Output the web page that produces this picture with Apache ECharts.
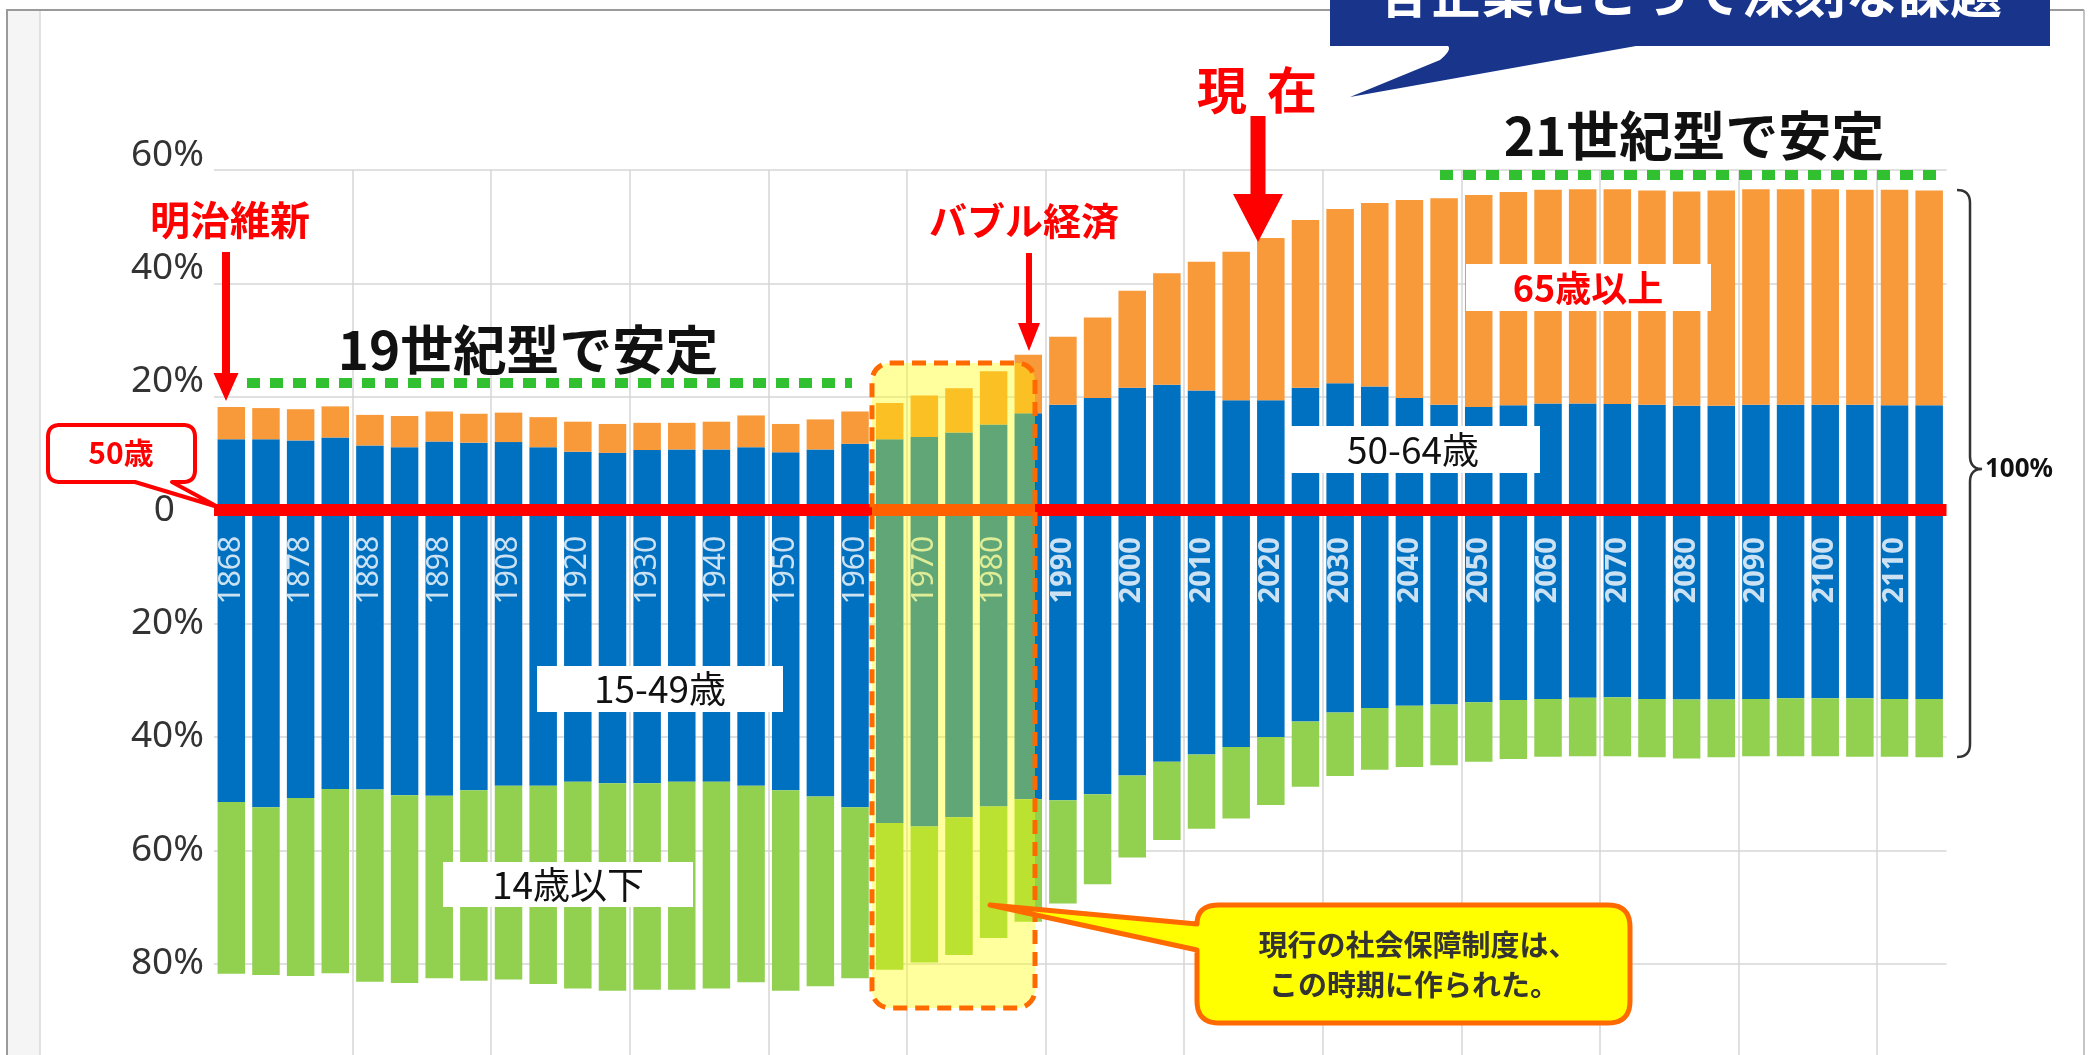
<!DOCTYPE html>
<html><head><meta charset="utf-8">
<style>html,body{margin:0;padding:0;background:#fff;}#c{width:2089px;height:1055px;}</style>
<script src="https://cdn.jsdelivr.net/npm/echarts@6/dist/echarts.min.js"></script>
</head><body><div id="c"></div>
<script>
// ---- data (shares of total population, %) ----
const years = [1868,1873,1878,1883,1888,1893,1898,1903,1908,1913,
  1920,1925,1930,1935,1940,1945,1950,1955,1960,1965,
  1970,1975,1980,1985,1990,1995,2000,2005,2010,2015,
  2020,2025,2030,2035,2040,2045,2050,2055,2060,2065,
  2070,2075,2080,2085,2090,2095,2100,2105,2110,2115];
const age50_64 = [12.5,12.5,12.3,12.8,11.4,11.1,12.1,11.9,12.0,11.1,
  10.3,10.1,10.6,10.7,10.7,11.1,10.2,10.7,11.7,12.5,
  12.9,13.7,15.1,17.1,18.6,19.8,21.6,22.1,21.1,19.4,
  19.4,21.6,22.4,21.8,19.8,18.6,18.2,18.5,18.8,18.8,
  18.7,18.6,18.4,18.4,18.6,18.6,18.6,18.6,18.5,18.5];
const age65plus = [5.7,5.5,5.5,5.5,5.4,5.5,5.3,5.1,5.2,5.3,
  5.3,5.1,4.8,4.7,4.9,5.6,5.0,5.3,5.7,6.4,
  7.3,7.8,9.4,10.3,12.0,14.2,17.1,19.7,22.7,26.2,
  28.6,29.6,30.7,32.4,34.9,36.4,37.4,37.6,37.7,37.8,
  37.9,37.8,37.8,38.0,38.0,38.0,38.0,37.9,38.0,37.9];
const age15_49 = [51.5,52.4,50.8,49.2,49.3,50.3,50.4,49.4,48.6,48.6,
  47.9,48.2,48.2,47.9,47.9,48.6,49.4,50.5,52.4,55.2,
  55.8,54.2,52.3,51.0,51.2,50.1,46.8,44.4,43.1,41.8,
  40.0,37.3,35.7,34.9,34.5,34.3,33.9,33.5,33.3,33.1,
  33.0,33.3,33.4,33.4,33.3,33.2,33.2,33.2,33.3,33.3];
const age0_14 = [30.3,29.6,31.4,32.5,33.9,33.1,32.2,33.6,34.2,35.0,
  36.5,36.6,36.4,36.7,36.5,34.7,35.4,33.5,30.2,25.9,
  24.0,24.3,23.2,21.6,18.2,15.9,14.5,13.8,13.1,12.6,
  12.0,11.5,11.2,10.9,10.8,10.7,10.5,10.4,10.2,10.3,
  10.4,10.3,10.4,10.2,10.1,10.2,10.2,10.3,10.2,10.3];
const yTicks = [-100,-80,-60,-40,-20,0,20,40,60];

// ---- chart ----
const JP = '"Noto Sans CJK JP"';
const chart = echarts.init(document.getElementById('c'), null, {renderer:'canvas'});
const labelDepth = -10.6;
const yearLabelData = years.map((y,i)=> i%2===0 ? [i, labelDepth] : null).filter(d=>d);

// simple path (M,H,V,L,Q,Z) -> point list
function pathPts(d){
  const t = d.match(/[MHVLQZ]|-?\d+(\.\d+)?/g);
  const pts = []; let cx=0, cy=0, i=0, cmd='';
  while(i<t.length){
    if(/[MHVLQZ]/.test(t[i])){cmd=t[i]; i++; if(cmd==='Z') continue;}
    if(cmd==='M'||cmd==='L'){cx=+t[i];cy=+t[i+1];i+=2;pts.push([cx,cy]);}
    else if(cmd==='H'){cx=+t[i];i++;pts.push([cx,cy]);}
    else if(cmd==='V'){cy=+t[i];i++;pts.push([cx,cy]);}
    else if(cmd==='Q'){const qx=+t[i],qy=+t[i+1],ex=+t[i+2],ey=+t[i+3];i+=4;
      for(let k=1;k<=10;k++){const s=k/10;
        pts.push([(1-s)*(1-s)*cx+2*(1-s)*s*qx+s*s*ex,(1-s)*(1-s)*cy+2*(1-s)*s*qy+s*s*ey]);}
      cx=ex;cy=ey;}
    else i++;
  }
  return pts;
}
function shapeEl(d, style, z, open){
  return {type: open?'polyline':'polygon', z:z, silent:true, shape:{points:pathPts(d)}, style:style};
}
function arrowDown(x, y0, y1, sw, hw, hh, color, z){
  return {type:'polygon', z:z||60, silent:true, shape:{points:[
    [x-sw/2,y0],[x+sw/2,y0],[x+sw/2,y1-hh],[x+hw/2,y1-hh],[x,y1],[x-hw/2,y1-hh],[x-sw/2,y1-hh]]},
    style:{fill:color}};
}
function txt(text, x, y, font, fill, align, z){
  return {type:'text', z:z||60, silent:true, style:{text:text, x:x, y:y, font:font, fill:fill,
    textAlign:align||'center', align:align||'center', textVerticalAlign:'middle', verticalAlign:'middle'}};
}
function box(x,y,w,h,z){
  return {type:'rect', z:z||55, silent:true, shape:{x:x,y:y,width:w,height:h}, style:{fill:'#ffffff'}};
}

const RED = '#ff0000';
const graphics = [
  // frame
  {type:'rect', z:0, silent:true, shape:{x:7,y:10,width:33,height:1060}, style:{fill:'#f5f5f5'}},
  {type:'line', z:1, silent:true, shape:{x1:7,y1:10,x2:7,y2:1060}, style:{stroke:'#9a9a9a',lineWidth:2}},
  {type:'line', z:1, silent:true, shape:{x1:40,y1:10,x2:40,y2:1060}, style:{stroke:'#d8d8d8',lineWidth:1.5}},
  {type:'line', z:1, silent:true, shape:{x1:6,y1:10,x2:2084,y2:10}, style:{stroke:'#9a9a9a',lineWidth:2}},
  {type:'line', z:1, silent:true, shape:{x1:2084,y1:10,x2:2084,y2:1060}, style:{stroke:'#b0b0b0',lineWidth:1.5}},
  // highlight overlay (1965-1985)
  {type:'rect', z:100, silent:true, shape:{x:872,y:363,width:163,height:645,r:18},
    style:{fill:'rgba(255,255,0,0.38)', stroke:'#ff6a00', lineWidth:5, lineDash:[14,8]}},
  // green dotted lines
  {type:'line', z:60, silent:true, shape:{x1:247,y1:383,x2:852,y2:383}, style:{stroke:'#30c030',lineWidth:10,lineDash:[13,10]}},
  {type:'line', z:60, silent:true, shape:{x1:1440,y1:175,x2:1945,y2:175}, style:{stroke:'#30c030',lineWidth:10,lineDash:[13,10]}},
  txt('19世紀型で安定', 528, 350, 'bold 53px '+JP, '#111111'),
  txt('21世紀型で安定', 1694, 136, 'bold 53px '+JP, '#111111'),
  // Meiji
  txt('明治維新', 230, 220, 'bold 40px '+JP, RED),
  arrowDown(226, 252, 401, 8, 25, 28, RED),
  // Bubble
  txt('バブル経済', 1024, 221, 'bold 38px '+JP, RED),
  arrowDown(1029, 253, 351, 6, 22, 28, RED),
  // Now
  txt('現', 1222, 90, 'bold 50px '+JP, RED),
  txt('在', 1292, 90, 'bold 50px '+JP, RED),
  arrowDown(1258, 116, 242, 15, 50, 48, RED),
  // age band labels
  box(1287,426,253,47), txt('50-64歳', 1413, 450, '37px '+JP, '#111111', 'center', 56),
  box(537,666,246,46), txt('15-49歳', 660, 689, '37px '+JP, '#111111', 'center', 56),
  box(443,862,250,45), txt('14歳以下', 568, 885, '37px '+JP, '#111111', 'center', 56),
  box(1466,264,245,47), txt('65歳以上', 1588, 288, 'bold 36px '+JP, RED, 'center', 56),
  // 50歳 callout
  shapeEl('M60 425 H183 Q195 425 195 437 V470 Q195 482 183 482 H172 L218 507 L135 482 H60 Q48 482 48 470 V437 Q48 425 60 425 Z',
    {fill:'#ffffff', stroke:RED, lineWidth:4, lineJoin:'round'}, 70),
  txt('50歳', 121, 453, 'bold 30px '+JP, RED, 'center', 71),
  // brace + 100%
  shapeEl('M1957 190 Q1970 190 1970 203 L1970 456 Q1970 469 1982 469 Q1970 469 1970 482 L1970 744 Q1970 757 1957 757',
    {fill:'none', stroke:'#333333', lineWidth:2.5}, 60, true),
  txt('100%', 1985, 470, 'bold 26px "Noto Sans"', '#111111', 'left'),
  // bottom callout
  shapeEl('M1219 905 H1608 Q1630 905 1630 927 V1001 Q1630 1023 1608 1023 H1219 Q1197 1023 1197 1001 V950 L990 905 L1197 924 Q1197 905 1219 905 Z',
    {fill:'#ffff00', stroke:'#ff6a00', lineWidth:5, lineJoin:'round'}, 110),
  txt('現行の社会保障制度は、', 1418, 945, 'bold 29px '+JP, '#333333', 'center', 111),
  txt('この時期に作られた。', 1414, 985, 'bold 29px '+JP, '#333333', 'center', 111),
  // top navy bubble
  shapeEl('M1330 -10 H2050 V46 H1636 L1350 97 L1440 60 Q1452 50 1448 46 H1330 Z', {fill:'#18358b'}, 110),
  txt('各企業にとって深刻な課題', 1690, -7, 'bold 52px '+JP, '#ffffff', 'center', 111)
];

const option = {
  animation:false,
  backgroundColor:'#ffffff',
  grid:{left:214, top:170, width:1732.5, height:907, containLabel:false, outerBoundsMode:'none'},
  xAxis:{type:'category', data:years.map(String), boundaryGap:true,
    axisLine:{show:false}, axisTick:{show:false}, axisLabel:{show:false},
    splitLine:{show:true, interval:3, showMinLine:false, showMaxLine:false, lineStyle:{color:'#d6d6d6', width:1.5}}},
  yAxis:{type:'value', min:yTicks[0], max:yTicks[yTicks.length-1], interval:20,
    axisLine:{show:false}, axisTick:{show:false},
    splitLine:{show:true, lineStyle:{color:'#d6d6d6', width:1.5}},
    axisLabel:{margin:10, color:'#333', fontSize:37, fontFamily:'Noto Sans',
      formatter:v=> v===yTicks[0] ? '' : (v>0 ? '{up|'+v+'%}' : (v===0 ? '{zero|0}' : '{dn|'+(-v)+'%}')),
      rich:{
        up:{fontSize:37, fontFamily:'Noto Sans', color:'#333', padding:[0,0,30,0]},
        zero:{fontSize:37, fontFamily:'Noto Sans', color:'#333', padding:[0,29,0,0]},
        dn:{fontSize:37, fontFamily:'Noto Sans', color:'#333'}
      }}},
  series:[
    {name:'50-64歳', type:'bar', stack:'age', barWidth:27.5, data:age50_64,
      itemStyle:{color:'#0070c0'},
      markLine:{silent:true, symbol:'none', label:{show:false}, data:[{yAxis:0}],
        lineStyle:{color:RED, width:12, type:'solid'}}},
    {name:'65歳以上', type:'bar', stack:'age', barWidth:27.5, data:age65plus, itemStyle:{color:'#f8993a'}},
    {name:'15-49歳', type:'bar', stack:'age', barWidth:27.5, data:age15_49.map(v=>-v), itemStyle:{color:'#0070c0'}},
    {name:'14歳以下', type:'bar', stack:'age', barWidth:27.5, data:age0_14.map(v=>-v), itemStyle:{color:'#92d050'}},
    {name:'year', type:'scatter', data:yearLabelData, symbolSize:1, itemStyle:{color:'rgba(0,0,0,0)'}, z:10,
      label:{show:true, position:'inside', rotate:90,
        formatter:p=>{const y=years[p.value[0]]; return (y>=1990?'{b|':'{n|')+y+'}';},
        rich:{
          b:{color:'#ffffff', fontSize:29, fontWeight:'bold', fontFamily:'Noto Sans'},
          n:{color:'#ffffff', fontSize:30, fontWeight:'normal', fontFamily:'Noto Sans'}
        }}}
  ],
  graphic:{elements:graphics}
};
chart.setOption(option);
</script>
</body></html>
